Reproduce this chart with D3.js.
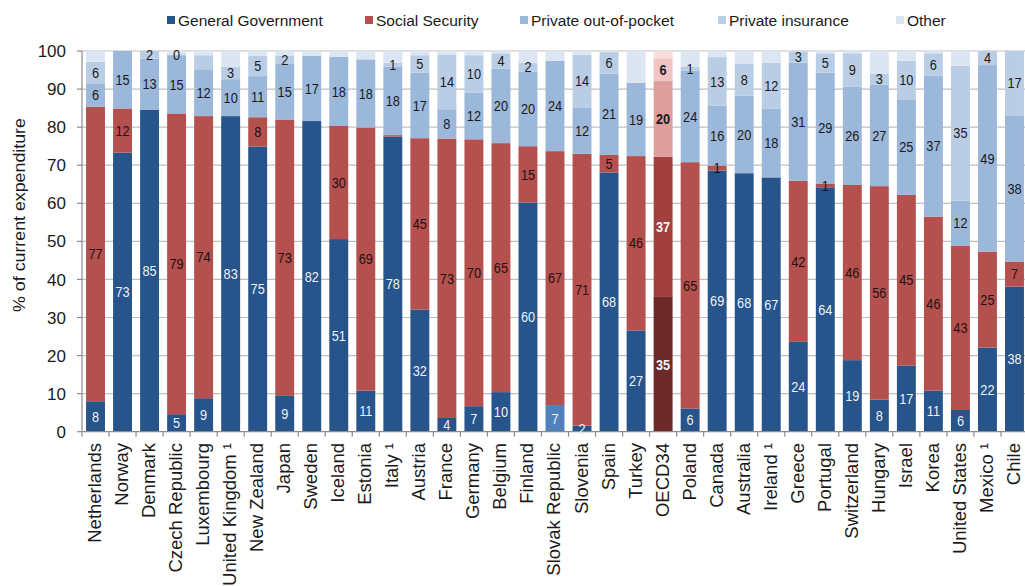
<!DOCTYPE html>
<html><head><meta charset="utf-8">
<script src="https://cdn.jsdelivr.net/npm/d3@7"></script>
<style>body{margin:0;background:#fff}svg{display:block;font-family:"Liberation Sans",Arial,sans-serif}</style>
</head><body><svg id="c" width="1025" height="586"></svg>
<script>
const countries = ["Netherlands","Norway","Denmark","Czech Republic","Luxembourg","United Kingdom ¹","New Zealand","Japan","Sweden","Iceland","Estonia","Italy ¹","Austria","France","Germany","Belgium","Finland","Slovak Republic","Slovenia","Spain","Turkey","OECD34","Poland","Canada","Australia","Ireland ¹","Greece","Portugal","Switzerland","Hungary","Israel","Korea","United States","Mexico ¹","Chile"];
const seriesNames = ["General Government","Social Security","Private out-of-pocket","Private insurance","Other"];
const generalGov = [8.0,73.3,84.6,4.6,8.8,82.9,74.9,9.4,81.6,50.6,10.8,77.5,32.1,3.6,6.7,10.4,60.2,7.0,1.6,68.1,26.6,35.4,6.1,68.6,67.9,66.8,23.6,64.2,18.8,8.4,17.4,10.8,5.7,22.1,38.1];
const socialSec  = [77.4,11.6,0,79.0,74.1,0,7.7,72.6,0,29.7,69.1,0.4,45.0,73.4,70.1,65.4,14.8,66.7,71.4,4.6,45.8,36.8,64.7,1.3,0,0,42.3,1.0,46.0,56.1,44.8,45.7,43.1,25.2,6.6];
const outOfPocket= [6.1,15.1,13.4,15.3,12.3,9.7,10.8,14.6,17.1,18.2,17.9,18.0,17.2,7.7,12.3,19.6,19.6,23.7,12.2,21.4,19.3,19.9,24.0,15.7,20.4,18.0,31.0,29.1,25.8,26.7,25.1,37.0,11.9,49.0,38.4];
const privIns    = [5.7,0,2.0,0.2,3.7,3.3,5.3,2.1,0,0,0,1.0,4.6,14.4,9.8,4.0,2.3,0,13.8,5.6,0,6.0,1.0,12.8,8.4,12.1,3.0,5.1,8.8,2.9,10.1,5.9,35.4,3.7,16.9];
const other      = [2.8,0,0,0.9,1.1,4.1,1.3,1.3,1.3,1.5,2.2,3.1,1.1,0.9,1.1,0.6,3.1,2.6,1.0,0.3,8.3,1.9,4.2,1.6,3.3,3.1,0.1,0.6,0.6,5.9,2.6,0.6,3.9,0,0];
const yTicks = [0,10,20,30,40,50,60,70,80,90,100];
const hiddenLabels = ["Luxembourg|3","Italy ¹|1"];
const highlight = "OECD34";
const altGovBar = "Slovak Republic";

const colors = ["#27548a","#b4504d","#9bb7d9","#b9cde5","#dce6f2"];
const oecdColors = ["#6c2927","#a2403d","#df9e9e","#f1c3c3","#f9dede"];
const altGovColor = "#4f81bd";

const svg = d3.select("#c");
const x = d3.scaleBand().domain(countries).range([82,1028]).paddingInner(0.3).paddingOuter(0.15);
const y = d3.scaleLinear().domain([0,100]).range([431.7,51]);

const table = countries.map((c,i)=>({country:c, s0:generalGov[i], s1:socialSec[i], s2:outOfPocket[i], s3:privIns[i], s4:other[i]}));
const stack = d3.stack().keys(["s0","s1","s2","s3","s4"])(table);

// gridlines
svg.append("g").selectAll("line").data(yTicks.filter(t=>t>0)).join("line")
  .attr("x1",82).attr("x2",1025).attr("y1",d=>y(d)).attr("y2",d=>y(d))
  .attr("stroke","#bfbfbf").attr("stroke-width",1.2);

// bars
stack.forEach((layer,k)=>{
  svg.append("g").selectAll("rect").data(layer).join("rect")
    .attr("x",d=>x(d.data.country)).attr("width",x.bandwidth())
    .attr("y",d=>y(d[1])).attr("height",d=>Math.max(0,y(d[0])-y(d[1])))
    .attr("fill",d=>{
      if(d.data.country===highlight) return oecdColors[k];
      if(k===0 && d.data.country===altGovBar) return altGovColor;
      return colors[k];
    });
});

// y axis
const yAxis = svg.append("g");
yAxis.append("line").attr("x1",82).attr("x2",82).attr("y1",y(0)).attr("y2",y(100)).attr("stroke","#8c8c8c").attr("stroke-width",1.2);
yAxis.selectAll("line.t").data(yTicks).join("line").attr("class","t")
  .attr("x1",77).attr("x2",82).attr("y1",d=>y(d)).attr("y2",d=>y(d)).attr("stroke","#8c8c8c").attr("stroke-width",1.2);
yAxis.selectAll("text").data(yTicks).join("text")
  .attr("x",66).attr("y",d=>y(d)).attr("dy","0.36em").attr("text-anchor","end")
  .attr("font-size",17).attr("fill","#1a1a1a").text(d=>d);

// x axis
const xAxis = svg.append("g");
xAxis.append("line").attr("x1",82).attr("x2",1025).attr("y1",y(0)).attr("y2",y(0)).attr("stroke","#8c8c8c").attr("stroke-width",1.2);
const step = x.step();
xAxis.selectAll("line.t").data(countries).join("line").attr("class","t")
  .attr("x1",d=>x(d)-(step-x.bandwidth())/2).attr("x2",d=>x(d)-(step-x.bandwidth())/2)
  .attr("y1",y(0)).attr("y2",y(0)+5).attr("stroke","#8c8c8c").attr("stroke-width",1.2);
xAxis.selectAll("text").data(countries).join("text")
  .attr("transform",d=>`translate(${x(d)+x.bandwidth()/2-1},443) rotate(-90)`)
  .attr("dy","0.35em").attr("text-anchor","end").attr("font-size",18.5).attr("fill","#1a1a1a").text(d=>d);

// y title
svg.append("text").attr("transform","translate(19,215) rotate(-90) scale(1,0.9)").attr("dy","0.35em")
  .attr("text-anchor","middle").attr("font-size",17.8).attr("fill","#1a1a1a").text("% of current expenditure");

// data labels
stack.slice(0,4).forEach((layer,k)=>{
  const items = layer.filter(d=>{
    const v = d.data["s"+k];
    if(!(v>0)) return false;
    return !hiddenLabels.includes(d.data.country+"|"+k);
  });
  svg.append("g").selectAll("text").data(items).join("text")
    .attr("transform",d=>`translate(${x(d.data.country)+x.bandwidth()/2},${y((d[0]+d[1])/2)}) scale(0.88,1)`)
    .attr("dy","0.36em").attr("text-anchor","middle").attr("font-size",14.5)
    .attr("font-weight",d=>d.data.country===highlight?"bold":"normal")
    .attr("fill",d=>{
      if(k===0) return "#eef2f8";
      if(k===1) return d.data.country===highlight?"#f4f4f4":"#1e1212";
      return "#1a1a1a";
    })
    .text(d=>Math.round(d.data["s"+k]));
});

// legend
const legendX = [167,365,520,718,896];
const lg = svg.append("g").selectAll("g").data(seriesNames).join("g")
  .attr("transform",(d,i)=>`translate(${legendX[i]},20)`);
lg.append("rect").attr("x",0).attr("y",-4).attr("width",8).attr("height",8).attr("fill",(d,i)=>colors[i]);
lg.append("text").attr("x",11).attr("dy","0.36em").attr("font-size",15.5).attr("fill","#1a1a1a").text(d=>d);
</script></body></html>
